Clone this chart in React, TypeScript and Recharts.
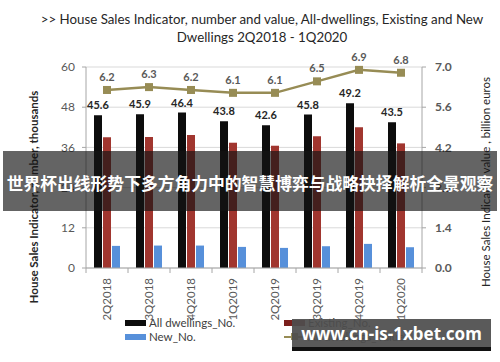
import React from 'react';
import { ComposedChart, Bar, Line, XAxis, YAxis, CartesianGrid, LabelList } from 'recharts';

const quarters = ['2Q2018', '3Q2018', '4Q2018', '1Q2019', '2Q2019', '3Q2019', '4Q2019', '1Q2020'];
const allDwellingsNo = [45.6, 45.9, 46.4, 43.8, 42.6, 45.8, 49.2, 43.5];
const existingNo = [39.0, 39.1, 39.7, 37.4, 36.5, 39.3, 42.0, 37.2];
const newNo = [6.6, 6.7, 6.7, 6.3, 6.0, 6.5, 7.2, 6.2];
const allDwellingsValue = [6.2, 6.3, 6.2, 6.1, 6.1, 6.5, 6.9, 6.8];

const leftTicks = [0, 12, 24, 36, 48, 60];
const rightTicks = [0, 1.4, 2.8, 4.2, 5.6, 7.0];

const data = quarters.map((q, i) => ({
  q,
  all: allDwellingsNo[i],
  existing: existingNo[i],
  newNo: newNo[i],
  value: allDwellingsValue[i],
}));

const FONT = 'Lato, "Open Sans", sans-serif';
const BLACK = '#0d0d0d';
const RED = '#a1362f';
const BLUE = '#5790da';
const OLIVE = '#978c55';
const AXIS = '#a6a6a6';

// rotated quarter labels + tick marks on the category boundaries
const QuarterTick = (props: any) => {
  const { x, y, payload, index, visibleTicksCount } = props;
  const half = payload && payload.offset ? payload.offset : 21;
  const last = index === visibleTicksCount - 1;
  return (
    <g>
      <line x1={x - half} y1={y - 8} x2={x - half} y2={y - 3} stroke={AXIS} />
      {last && <line x1={x + half} y1={y - 8} x2={x + half} y2={y - 3} stroke={AXIS} />}
      <text
        x={0}
        y={0}
        transform={`translate(${x + 4},${y + 2}) rotate(-90)`}
        textAnchor="end"
        fill="#595959"
        fontSize={11.5}
        fontFamily={FONT}
      >
        {payload.value}
      </text>
    </g>
  );
};

const SquareDot = (props: any) => {
  const { cx, cy, index } = props;
  return <rect key={`d${index}`} x={cx - 4} y={cy - 4} width={8} height={8} fill={OLIVE} />;
};

const Swatch = ({ color }: { color: string }) => (
  <span style={{ display: 'inline-block', width: 21, height: 6, background: color, marginRight: 3 }} />
);

const LineSwatch = () => (
  <span style={{ position: 'relative', display: 'inline-block', width: 21, height: 8, marginRight: 3 }}>
    <span style={{ position: 'absolute', left: 0, top: 3, width: 21, height: 2, background: OLIVE }} />
    <span style={{ position: 'absolute', left: 7, top: 0, width: 7, height: 7, background: OLIVE }} />
  </span>
);

export default function App() {
  return (
    <div style={{ position: 'absolute', left: 0, top: 0, width: 500, height: 362, background: '#fff', overflow: 'hidden', fontFamily: FONT }}>
      <div style={{ position: 'absolute', left: 0, top: 10, width: 524, textAlign: 'center', fontSize: 13.3, color: '#262626', lineHeight: '18px' }}>
        &gt;&gt; House Sales Indicator, number and value, All-dwellings, Existing and New
        <br />
        Dwellings 2Q2018 - 1Q2020
      </div>

      <ComposedChart
        width={500}
        height={362}
        data={data}
        margin={{ top: 67, right: 0, left: 0, bottom: 44 }}
        barSize={8}
        barGap={1}
      >
        <CartesianGrid yAxisId="left" vertical={false} stroke="#d9d9d9" />
        <XAxis
          dataKey="q"
          height={50}
          axisLine={{ stroke: AXIS }}
          tickLine={false}
          tick={<QuarterTick />}
          interval={0}
        />
        <YAxis
          yAxisId="left"
          width={86}
          domain={[0, 60]}
          ticks={leftTicks}
          axisLine={{ stroke: AXIS }}
          tickLine={{ stroke: AXIS }}
          tickSize={4}
          tickMargin={7}
          tick={{ fill: '#595959', fontSize: 12, fontFamily: FONT }}
        />
        <YAxis
          yAxisId="right"
          orientation="right"
          width={78}
          domain={[0, 7]}
          ticks={rightTicks}
          tickFormatter={(v: number) => v.toFixed(1)}
          axisLine={{ stroke: AXIS }}
          tickLine={{ stroke: AXIS }}
          tickSize={4}
          tickMargin={9}
          tick={{ fill: '#595959', fontSize: 12, fontWeight: 'bold', fontFamily: FONT }}
        />
        <Bar yAxisId="left" dataKey="all" fill={BLACK} isAnimationActive={false}>
          <LabelList dataKey="all" position="top" offset={6} fill="#262626" fontSize={11} fontWeight="bold" fontFamily={FONT} />
        </Bar>
        <Bar yAxisId="left" dataKey="existing" fill={RED} isAnimationActive={false} />
        <Bar yAxisId="left" dataKey="newNo" fill={BLUE} isAnimationActive={false} />
        <Line
          yAxisId="right"
          dataKey="value"
          stroke={OLIVE}
          strokeWidth={2.5}
          dot={SquareDot}
          activeDot={false}
          isAnimationActive={false}
        >
          <LabelList dataKey="value" position="top" offset={9} fill="#595959" fontSize={11} fontWeight="bold" fontFamily={FONT} />
        </Line>
      </ComposedChart>

      {/* axis titles */}
      <div style={{ position: 'absolute', left: 33, top: 197, width: 0, height: 0 }}>
        <div style={{ position: 'absolute', transform: 'translate(-50%,-50%) rotate(-90deg)', whiteSpace: 'nowrap', fontSize: 11.5, fontWeight: 'bold', color: '#262626' }}>
          House Sales Indicator, number, thousands
        </div>
      </div>
      <div style={{ position: 'absolute', left: 485, top: 182, width: 0, height: 0 }}>
        <div style={{ position: 'absolute', transform: 'translate(-50%,-50%) rotate(-90deg)', whiteSpace: 'nowrap', fontSize: 11.5, color: '#262626' }}>
          House Sales Indicator, value , billion euros
        </div>
      </div>

      {/* legend */}
      <div style={{ position: 'absolute', left: 125, top: 316, fontSize: 11.5, color: '#404040', lineHeight: '14px' }}>
        <div style={{ display: 'flex', alignItems: 'center' }}><Swatch color={BLACK} />All dwellings_No.</div>
        <div style={{ display: 'flex', alignItems: 'center' }}><Swatch color={BLUE} />New_No.</div>
      </div>
      <div style={{ position: 'absolute', left: 284, top: 316, fontSize: 11.5, color: '#404040', lineHeight: '14px' }}>
        <div style={{ display: 'flex', alignItems: 'center' }}><Swatch color="#7a1f1c" />Existing_No.</div>
        <div style={{ display: 'flex', alignItems: 'center' }}><LineSwatch />All dwellings_Value</div>
      </div>

      {/* overlay banner */}
      <div style={{ position: 'absolute', left: 3, top: 151, width: 494, height: 60, background: 'rgba(20,20,20,0.66)', display: 'flex', alignItems: 'center', justifyContent: 'center' }}>
        <span style={{ color: '#fff', fontFamily: '"Noto Sans CJK SC", sans-serif', fontWeight: 'bold', fontSize: 16.8, whiteSpace: 'nowrap', marginTop: 4 }}>
          世界杯出线形势下多方角力中的智慧博弈与战略抉择解析全景观察
        </span>
      </div>

      {/* watermark */}
      <div style={{ position: 'absolute', left: 292, top: 319, width: 199, height: 28, background: 'rgba(78,78,78,0.93)', borderBottom: '4px solid #111', display: 'flex', alignItems: 'center', justifyContent: 'center' }}>
        <span style={{ color: '#fff', fontFamily: '"Noto Sans", sans-serif', fontWeight: 'bold', fontSize: 17, whiteSpace: 'nowrap' }}>
          www.cn-is-1xbet.com
        </span>
      </div>
    </div>
  );
}
